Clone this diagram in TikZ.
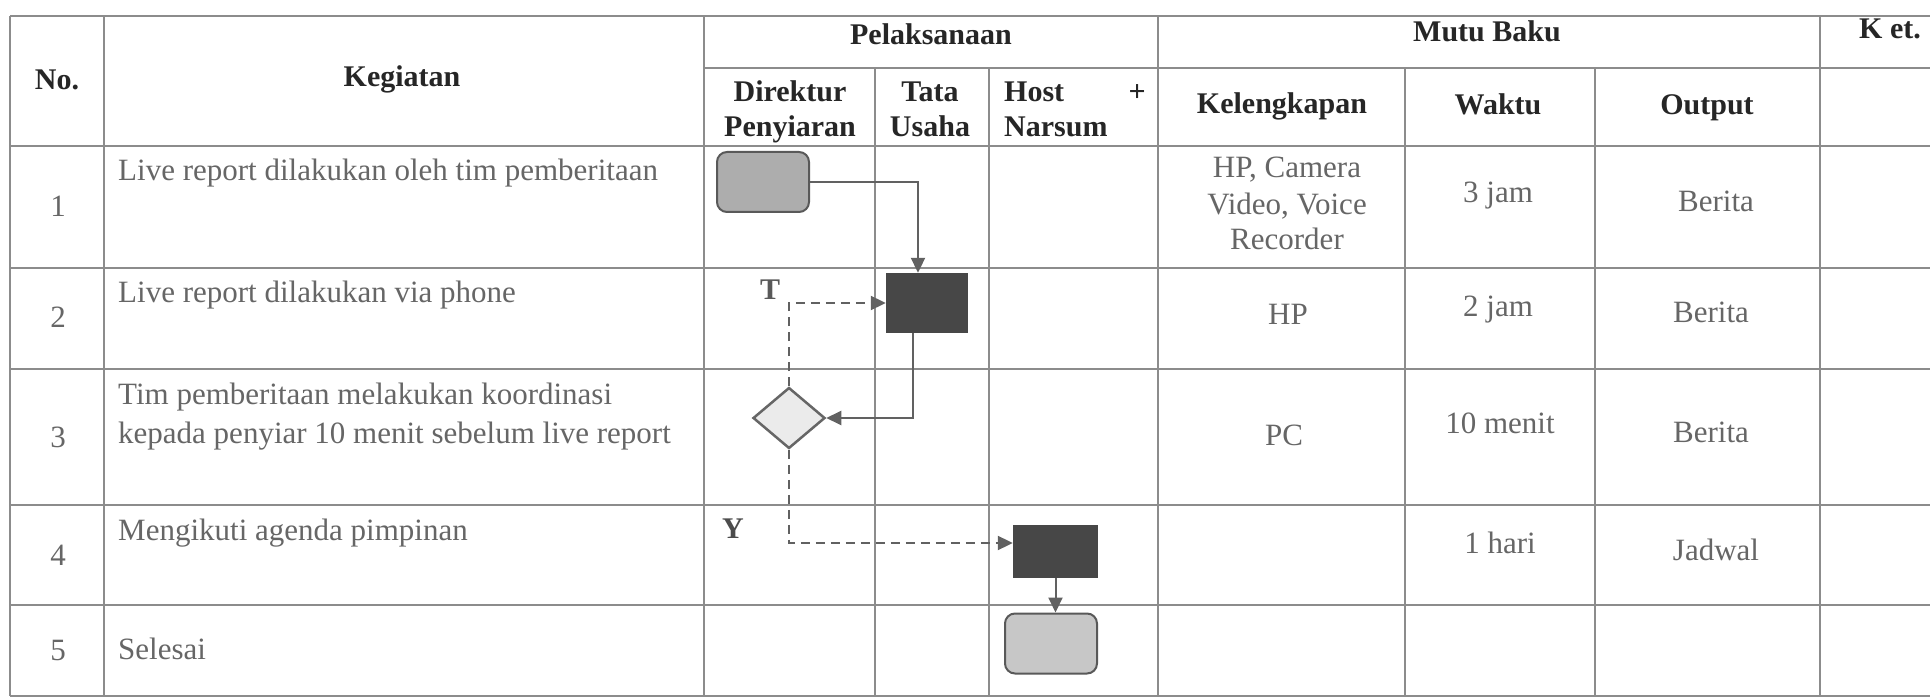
\documentclass[tikz,border=0pt]{standalone}
\usepackage{fontspec}
\setmainfont{Liberation Serif}
\usetikzlibrary{arrows.meta,shapes.geometric}
\begin{document}
\begin{tikzpicture}[x=1pt,y=-1pt,
 grid/.style={draw=black!45,line width=1.1pt},
 txt/.style={anchor=base,inner sep=0,text=black!60,font=\fontsize{31}{36}\selectfont},
 txtl/.style={txt,anchor=base west},
 hd/.style={anchor=base,inner sep=0,text=black!85,font=\bfseries\fontsize{30}{35}\selectfont},
 hdl/.style={hd,anchor=base west},
 term/.style={draw=black!65,line width=2pt,rounded corners=10pt,fill=black!32,inner sep=0},
 proc/.style={fill=black!72,inner sep=0},
 dec/.style={diamond,draw=black!60,line width=2.5pt,fill=black!8,inner sep=0,minimum width=72pt,minimum height=61pt},
 flow/.style={draw=black!62,line width=2pt,-{Triangle[length=15pt,width=14pt]}},
 dflow/.style={flow,dash pattern=on 9pt off 6pt}]
\useasboundingbox[fill=white] (0,0) rectangle (1930,700);

% ---- table grid ----
\foreach \y in {16,146,268,369,505,605,696} \draw[grid] (10,\y) -- (1930,\y);
\draw[grid] (704,68) -- (1930,68);
\foreach \x in {10,104,704,1158,1820} \draw[grid] (\x,16) -- (\x,696);
\foreach \x in {875,989,1405,1595} \draw[grid] (\x,68) -- (\x,696);

% ---- headers ----
\node[hd] (hno) at (57,90) {No.};
\node[hd] (hkeg) at (402,87) {Kegiatan};
\node[hd] (hpel) at (931,45) {Pelaksanaan};
\node[hd] (hmutu) at (1487,42) {Mutu Baku};
\node[hd] (hket) at (1890,39) {K et.};
\node[hd] (hdir1) at (790,102) {Direktur};
\node[hd] (hdir2) at (790,137) {Penyiaran};
\node[hd] (htata1) at (930,102) {Tata};
\node[hd] (htata2) at (930,137) {Usaha};
\node[hdl] (hhost1) at (1004,102) {Host};
\node[hd,anchor=base east] (hplus) at (1146,102) {+};
\node[hdl] (hhost2) at (1004,137) {Narsum};
\node[hd] (hkel) at (1282,114) {Kelengkapan};
\node[hd] (hwak) at (1498,115) {Waktu};
\node[hd] (hout) at (1707,115) {Output};

% ---- numbers ----
\node[txt] (n1) at (58,217) {1};
\node[txt] (n2) at (58,328) {2};
\node[txt] (n3) at (58,447) {3};
\node[txt] (n4) at (58,565) {4};
\node[txt] (n5) at (58,660) {5};

% ---- activities ----
\node[txtl] (k1) at (118,181) {Live report dilakukan oleh tim pemberitaan};
\node[txtl] (k2) at (118,303) {Live report dilakukan via phone};
\node[txtl] (k3a) at (118,405) {Tim pemberitaan melakukan koordinasi};
\node[txtl] (k3b) at (118,443) {kepada penyiar 10 menit sebelum live report};
\node[txtl] (k4) at (118,540) {Mengikuti agenda pimpinan};
\node[txtl] (k5) at (118,659) {Selesai};

% ---- mutu baku ----
\node[txt] (kl1a) at (1287,178) {HP, Camera};
\node[txt] (kl1b) at (1287,215) {Video, Voice};
\node[txt] (kl1c) at (1287,250) {Recorder};
\node[txt] (w1) at (1498,203) {3 jam};
\node[txt] (o1) at (1716,212) {Berita};
\node[txt] (kl2) at (1288,325) {HP};
\node[txt] (w2) at (1498,317) {2 jam};
\node[txt] (o2) at (1711,323) {Berita};
\node[txt] (kl3) at (1284,445) {PC};
\node[txt] (w3) at (1500,433) {10 menit};
\node[txt] (o3) at (1711,442) {Berita};
\node[txt] (w4) at (1500,553) {1 hari};
\node[txt] (o4) at (1716,560) {Jadwal};

% ---- flowchart ----
\node[term,minimum width=92pt,minimum height=60pt] (s) at (763,182) {};
\node[proc,minimum width=82pt,minimum height=60pt] (p2) at (927,303) {};
\node[dec] (d) at (789,418) {};
\node[proc,minimum width=85pt,minimum height=53pt] (p4) at (1055.5,551) {};
\node[term,fill=black!22,minimum width=92pt,minimum height=60pt] (e) at (1051,643.5) {};

\draw[flow] (s.east) -| ([xshift=-9pt]p2.north);
\draw[flow] ([xshift=-14.5pt]p2.south) |- (d.east);
\draw[dflow] (d.north) |- (p2.west);
\draw[dflow] (d.south) |- ([yshift=8pt]p4.west);
\draw[flow] (p4.south) -- (p4.south |- e.north);

\node[hd,text=black!65] (lt) at (770,300) {T};
\node[hd,text=black!70] (ly) at (733,538) {Y};
\end{tikzpicture}
\end{document}
